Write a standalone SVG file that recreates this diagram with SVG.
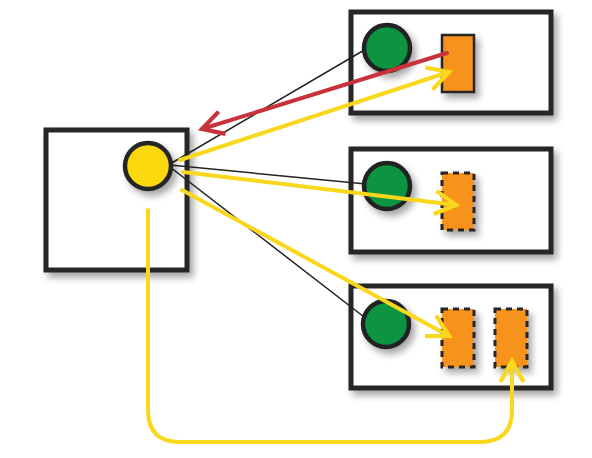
<svg xmlns="http://www.w3.org/2000/svg" width="592" height="458" viewBox="0 0 592 458">
<defs>
<filter id="sh" x="-20%" y="-20%" width="150%" height="150%">
<feGaussianBlur in="SourceAlpha" stdDeviation="3.5"/>
<feOffset dx="4" dy="5" result="b"/>
<feComponentTransfer><feFuncA type="linear" slope="0.35"/></feComponentTransfer>
<feMerge><feMergeNode/><feMergeNode in="SourceGraphic"/></feMerge>
</filter>
<marker id="ay" viewBox="0 0 12 12" refX="10" refY="6" markerWidth="7" markerHeight="7" orient="auto" markerUnits="strokeWidth">
<path d="M1,1 L10,6 L1,11" fill="none" stroke="#f9d71c" stroke-width="1.8"/>
</marker>
<marker id="ar" viewBox="0 0 12 12" refX="10" refY="6" markerWidth="7" markerHeight="7" orient="auto" markerUnits="strokeWidth">
<path d="M1,1 L10,6 L1,11" fill="none" stroke="#c8323a" stroke-width="1.8"/>
</marker>
</defs>
<style>
.box{fill:#fff;stroke:#262626;stroke-width:5}
.green{fill:#0a9440;stroke:#222;stroke-width:4.5}
.yel{fill:#fbd80a;stroke:#262626;stroke-width:4.5}
.org{fill:#f7931e;stroke:#262626;stroke-width:2.5}
.dash{stroke-width:3;stroke-dasharray:6 5}
.thin{stroke:#222;stroke-width:1.5;fill:none}
.ya{stroke:#f9d71c;stroke-width:4;fill:none;stroke-linecap:round;marker-end:url(#ay)}
.ra{stroke:#c8323a;stroke-width:4;fill:none;stroke-linecap:round;marker-end:url(#ar)}
</style>
<g id="node-left" filter="url(#sh)">
<rect class="box" x="46" y="130" width="141" height="140"/>
</g>
<g id="node-top" filter="url(#sh)">
<rect class="box" x="351" y="12" width="200" height="101"/>
</g>
<g id="node-mid" filter="url(#sh)">
<rect class="box" x="351" y="149" width="200" height="103"/>
</g>
<g id="node-bot" filter="url(#sh)">
<rect class="box" x="351" y="286" width="200" height="102"/>
</g>
<g id="connectors-thin">
<line class="thin" x1="170" y1="164" x2="366" y2="49"/>
<line class="thin" x1="170" y1="165" x2="366" y2="184"/>
<line class="thin" x1="170" y1="167" x2="368" y2="320"/>
</g>
<g id="shapes" filter="url(#sh)">
<circle id="yellow-circle" class="yel" cx="148" cy="166" r="23"/>
<circle id="green-top" class="green" cx="387" cy="48" r="23"/>
<circle id="green-mid" class="green" cx="387" cy="186" r="23"/>
<circle id="green-bot" class="green" cx="386" cy="324" r="23"/>
<rect id="orange-top" class="org" x="442" y="35" width="32" height="57"/>
<rect id="orange-mid" class="org dash" x="442" y="173" width="32" height="57"/>
<rect id="orange-bot1" class="org dash" x="442" y="309" width="32" height="58"/>
<rect id="orange-bot2" class="org dash" x="495" y="309" width="32" height="58"/>
</g>
<g id="connectors">
<line class="ra" x1="447" y1="53" x2="202" y2="129"/>
<line class="ya" x1="180" y1="160" x2="449" y2="72"/>
<line class="ya" x1="183" y1="172" x2="456" y2="205"/>
<line class="ya" x1="182" y1="190" x2="449" y2="336"/>
<path class="ya" d="M148,210 L148,410 Q148,442 180,442 L480,442 Q512,442 512,410 L512,361"/>
</g>
</svg>
